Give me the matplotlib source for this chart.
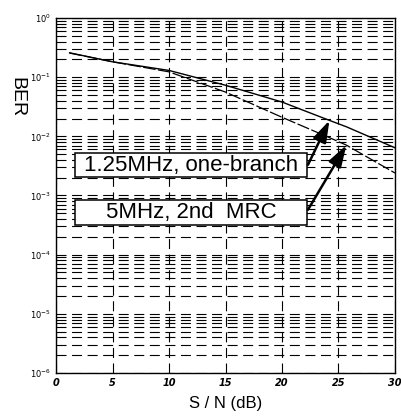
import numpy as np
import matplotlib.pyplot as plt
from matplotlib.patches import Rectangle

# S/N (dB) sample points and BER
snr_db = [1.2, 5, 10, 15, 20, 24.2, 25.7, 30]
ber_one_branch = [0.258, 0.182, 0.130, 0.073, 0.038, 0.0186, 0.0145, 0.0064]
ber_mrc = [0.256, 0.182, 0.123, 0.056, 0.021, 0.0095, 0.0071, 0.0024]

x_ticks = [0, 5, 10, 15, 20, 25, 30]
y_ticks = [1e-6, 1e-5, 1e-4, 1e-3, 1e-2, 1e-1, 1e0]
y_tick_labels = [r'$10^{-6}$', r'$10^{-5}$', r'$10^{-4}$', r'$10^{-3}$',
                 r'$10^{-2}$', r'$10^{-1}$', r'$10^{0}$']

fig = plt.figure(figsize=(4.01, 4.16), dpi=100)
ax = fig.add_axes([0.1397, 0.1034, 0.8453, 0.8533])

ax.semilogy(snr_db, ber_one_branch, color='black', linewidth=1.0, linestyle='-')
ax.semilogy(snr_db, ber_mrc, color='black', linewidth=0.9, linestyle=(0, (10, 2)))

ax.set_xlim(0, 30)
ax.set_ylim(1e-6, 1)
ax.set_xticks(x_ticks)
ax.set_xticklabels([str(v) for v in x_ticks], fontsize=7, style='italic', fontweight='bold')
ax.set_yticks(y_ticks)
ax.set_yticklabels(y_tick_labels, fontsize=6)
ax.tick_params(which='both', direction='in', length=0)

ax.grid(True, which='major', axis='x', color='black', linestyle=(0, (9, 5)), linewidth=0.8)
ax.grid(True, which='both', axis='y', color='black', linestyle=(0, (9, 5)), linewidth=0.8)

for s in ax.spines.values():
    s.set_linewidth(1.0)

ax.set_xlabel('S / N (dB)', fontsize=12, family='Liberation Sans', labelpad=6)
fig.text(17 / 401, 1 - 97 / 416, 'BER', fontsize=14, family='Liberation Sans',
         rotation=270, ha='center', va='center')

# label boxes (same width), then arrows from their right edge
labels = ['1.25MHz, one-branch', '5MHz, 2nd  MRC']
box_x = (1.68, 22.2)
box_logy = [(-2.69, -2.28), (-3.50, -3.07)]
arrow_from = [(22.3, 10**-2.48), (22.3, 10**-3.24)]
arrow_to = [(24.2, 0.0186), (25.7, 0.0071)]

for lab, (lo, hi), a0, a1 in zip(labels, box_logy, arrow_from, arrow_to):
    ax.add_patch(Rectangle((box_x[0], 10**lo), box_x[1] - box_x[0], 10**hi - 10**lo,
                           facecolor='white', edgecolor='black', linewidth=1.1, zorder=3))
    ax.text((box_x[0] + box_x[1]) / 2, 10**((lo + hi) / 2), lab, fontsize=16,
            family='Liberation Sans', ha='center', va='center', zorder=4)
    ax.annotate('', xy=a1, xytext=a0, zorder=5,
                arrowprops=dict(arrowstyle='-|>,head_length=1.1,head_width=0.35', color='black',
                                lw=1.8, mutation_scale=12, shrinkA=0, shrinkB=0))

fig.savefig('out.png', dpi=100)
